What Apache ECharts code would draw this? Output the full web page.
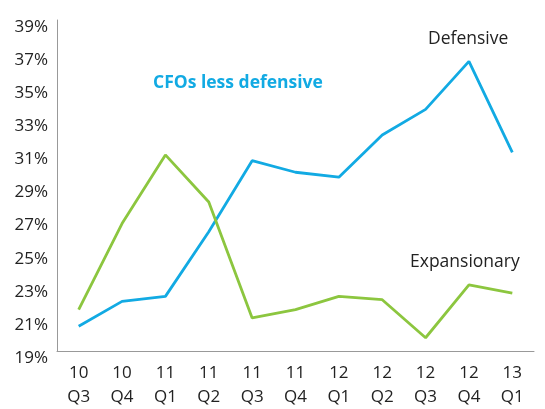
<!DOCTYPE html>
<html><head><meta charset="utf-8">
<script src="https://cdn.jsdelivr.net/npm/echarts@6/dist/echarts.min.js"></script>
<style>html,body{margin:0;padding:0;background:#fff}#c{width:545px;height:409px}</style>
</head><body><div id="c"></div>
<script>
const categories = ['10\nQ3','10\nQ4','11\nQ1','11\nQ2','11\nQ3','11\nQ4','12\nQ1','12\nQ2','12\nQ3','12\nQ4','13\nQ1'];
const defensive = [20.5, 22.0, 22.3, 26.2, 30.5, 29.8, 29.5, 32.05, 33.6, 36.5, 31.0];
const expansionary = [21.5, 26.7, 30.85, 28.0, 21.0, 21.5, 22.3, 22.1, 19.8, 23.0, 22.5];
const yMin = 19, yMax = 39, yStep = 2;

const font = '"Open Sans", "Noto Sans", sans-serif';
const chart = echarts.init(document.getElementById('c'));
chart.setOption({
  animation: false,
  grid: {left: 57, right: 11, top: 20, bottom: 58, containLabel: false},
  xAxis: {
    type: 'category', data: categories, boundaryGap: true,
    axisLine: {lineStyle: {color: '#999', width: 1}},
    axisTick: {show: false},
    axisLabel: {color: '#222', fontSize: 17, fontFamily: font, lineHeight: 24, margin: 10, interval: 0}
  },
  yAxis: {
    type: 'value', min: yMin, max: yMax, interval: yStep,
    axisLine: {show: true, lineStyle: {color: '#999', width: 1}},
    axisTick: {show: false},
    splitLine: {show: false},
    axisLabel: {color: '#222', fontSize: 17, fontFamily: font, margin: 9, verticalAlign: 'top', lineHeight: 14, formatter: v => v + '%'}
  },
  series: [
    {name: 'Defensive', type: 'line', data: defensive, symbol: 'none', lineStyle: {color: '#12aae3', width: 2.8}},
    {name: 'Expansionary', type: 'line', data: expansionary, symbol: 'none', lineStyle: {color: '#8cc63f', width: 2.8}}
  ],
  graphic: [
    {type: 'text', left: 153, top: 74, style: {text: 'CFOs less defensive', fill: '#12aae3', font: 'bold 17.5px ' + font}},
    {type: 'text', left: 428, top: 30, style: {text: 'Defensive', fill: '#222', font: '17.5px ' + font}},
    {type: 'text', left: 410, top: 253, style: {text: 'Expansionary', fill: '#222', font: '17.5px ' + font}}
  ]
});
</script></body></html>
